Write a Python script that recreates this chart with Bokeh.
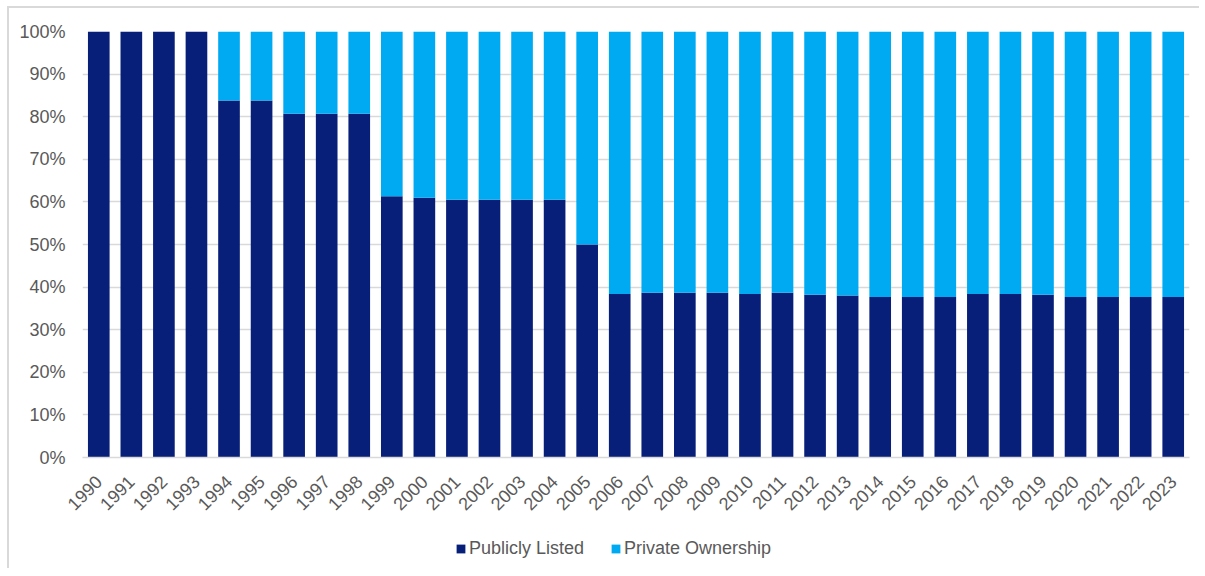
from bokeh.plotting import figure
from bokeh.layouts import column
from bokeh.models import ColumnDataSource, Legend, LegendItem, NumeralTickFormatter, FixedTicker
from bokeh.embed import file_html
from bokeh.resources import INLINE

years = [str(y) for y in range(1990, 2024)]
publicly_listed = [100, 100, 100, 100, 83.8, 83.8, 80.7, 80.7, 80.7, 61.3,
                   61.0, 60.5, 60.5, 60.5, 60.5, 50.0, 38.4, 38.7, 38.7, 38.7,
                   38.4, 38.7, 38.2, 38.0, 37.7, 37.7, 37.7, 38.4, 38.4, 38.2,
                   37.7, 37.7, 37.7, 37.7]
private_ownership = [0, 0, 0, 0, 16.2, 16.2, 19.3, 19.3, 19.3, 38.7,
                     39.0, 39.5, 39.5, 39.5, 39.5, 50.0, 61.6, 61.3, 61.3, 61.3,
                     61.6, 61.3, 61.8, 62.0, 62.3, 62.3, 62.3, 61.6, 61.6, 61.8,
                     62.3, 62.3, 62.3, 62.3]
series = ["Publicly Listed", "Private Ownership"]
colors = ["#071f79", "#00aaf3"]
y_ticks = [i / 10 for i in range(11)]

src = ColumnDataSource(dict(
    year=years,
    pub=[v / 100 for v in publicly_listed],
    priv=[v / 100 for v in private_ownership],
))

TXT = "#595959"
FONT = "Liberation Sans"
FS = "18px"

p = figure(x_range=years, y_range=(0, 1), width=1190, height=520,
           output_backend="svg", toolbar_location=None,
           min_border_left=73, min_border_top=23, min_border_right=10, min_border_bottom=71)
p.outline_line_color = None
p.x_range.range_padding = 0

r = p.vbar_stack(["pub", "priv"], x="year", width=0.665, color=colors,
                 line_color=None, source=src)

p.xgrid.grid_line_color = None
p.ygrid.grid_line_color = "#d9d9d9"
p.ygrid.grid_line_width = 1.5
p.yaxis.ticker = FixedTicker(ticks=y_ticks)
p.yaxis.formatter = NumeralTickFormatter(format="0%")
p.yaxis.axis_line_color = None
p.yaxis.major_tick_line_color = None
p.yaxis.minor_tick_line_color = None
p.yaxis.major_label_standoff = 11
p.xaxis.axis_line_color = "#d9d9d9"
p.xaxis.axis_line_width = 1.5
p.xaxis.major_tick_line_color = None
p.xaxis.minor_tick_line_color = None
p.xaxis.major_label_orientation = 0.785398
p.xaxis.major_label_standoff = 15
for ax in (p.xaxis[0], p.yaxis[0]):
    ax.major_label_text_font = FONT
    ax.major_label_text_font_size = FS
    ax.major_label_text_color = TXT

# legend strip below the chart (swatch renderers are zero-size, off range)
lg = figure(width=1190, height=40, output_backend="svg", toolbar_location=None,
            x_axis_type=None, y_axis_type=None, x_range=(0, 1), y_range=(0, 1),
            min_border=0)
lg.outline_line_color = None
lg.grid.grid_line_color = None
lr = [lg.vbar(x=[-10], top=[-10], bottom=[-10], width=0.0, color=c, line_color=None)
      for c in colors]
legend = Legend(items=[LegendItem(label=series[i], renderers=[lr[i]]) for i in range(2)],
                orientation="horizontal", location=(373, 9),
                glyph_width=11, glyph_height=11, label_standoff=3, spacing=26,
                label_text_font=FONT, label_text_font_size=FS,
                label_text_color=TXT, border_line_color=None,
                background_fill_alpha=0, margin=0, padding=4)
lg.add_layout(legend, "center")

layout = column(p, lg, spacing=0)
layout.styles = {"border-left": "2px solid #d9d9d9", "border-top": "2px solid #d9d9d9",
                 "margin-left": "7px", "margin-top": "6px"}

open("out.html", "w").write(file_html(layout, INLINE))
